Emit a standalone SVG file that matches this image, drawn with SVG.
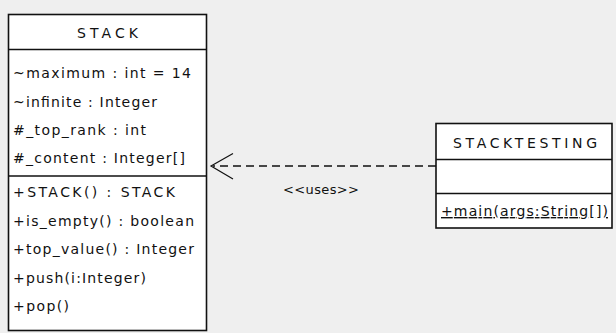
<svg xmlns="http://www.w3.org/2000/svg" width="616" height="333" viewBox="0 0 616 333">
  <style>
    .bg { fill: #efefef; }
    .box { fill: #ffffff; stroke: #111111; stroke-width: 1.6; }
    .div { stroke: #111111; stroke-width: 1.6; }
    text { font-family: "DejaVu Sans", "Liberation Sans", sans-serif; font-size: 14px; fill: #111111; }
    .hdr { text-anchor: middle; }
    .lbl { font-size: 13px; }
    .dep { fill: none; stroke: #111111; stroke-width: 1.3; stroke-dasharray: 8 5; }
    .head { fill: none; stroke: #111111; stroke-width: 1.2; }
  </style>
  <rect class="bg" x="0" y="0" width="616" height="333"/>

  <!-- dependency: StackTesting uses Stack -->
  <g id="connectors">
    <line class="dep" x1="436" y1="166" x2="213" y2="166"/>
    <polyline class="head" points="233,153.5 211,166 233,179"/>
    <text class="lbl" x="283" y="193.5" textLength="76" lengthAdjust="spacing">&lt;&lt;uses&gt;&gt;</text>
  </g>

  <g id="stack">
    <rect class="box" x="8.5" y="14.5" width="198" height="316"/>
    <line class="div" x1="8.5" y1="49.5" x2="206.5" y2="49.5"/>
    <line class="div" x1="8.5" y1="176" x2="206.5" y2="176"/>
    <text class="hdr" x="107.5" y="38" textLength="61" lengthAdjust="spacing">STACK</text>
    <text x="13" y="78" textLength="178" lengthAdjust="spacing">~maximum : int = 14</text>
    <text x="13" y="106.5" textLength="144" lengthAdjust="spacing">~infinite : Integer</text>
    <text x="13" y="135" textLength="133" lengthAdjust="spacing">#_top_rank : int</text>
    <text x="13" y="163" textLength="172" lengthAdjust="spacing">#_content : Integer[]</text>
    <text x="13" y="197" textLength="162" lengthAdjust="spacing">+STACK() : STACK</text>
    <text x="13" y="225.5" textLength="181" lengthAdjust="spacing">+is_empty() : boolean</text>
    <text x="13" y="254" textLength="181" lengthAdjust="spacing">+top_value() : Integer</text>
    <text x="13" y="282.5" textLength="133" lengthAdjust="spacing">+push(i:Integer)</text>
    <text x="13" y="311" textLength="56" lengthAdjust="spacing">+pop()</text>
  </g>

  <g id="stacktesting">
    <rect class="box" x="436" y="123.5" width="176" height="104.5"/>
    <line class="div" x1="436" y1="159.5" x2="612" y2="159.5"/>
    <line class="div" x1="436" y1="193.5" x2="612" y2="193.5"/>
    <text class="hdr" x="525" y="148" textLength="144" lengthAdjust="spacing">STACKTESTING</text>
    <text x="441" y="216" textLength="167" lengthAdjust="spacing" text-decoration="underline">+main(args:String[])</text>
  </g>
</svg>
